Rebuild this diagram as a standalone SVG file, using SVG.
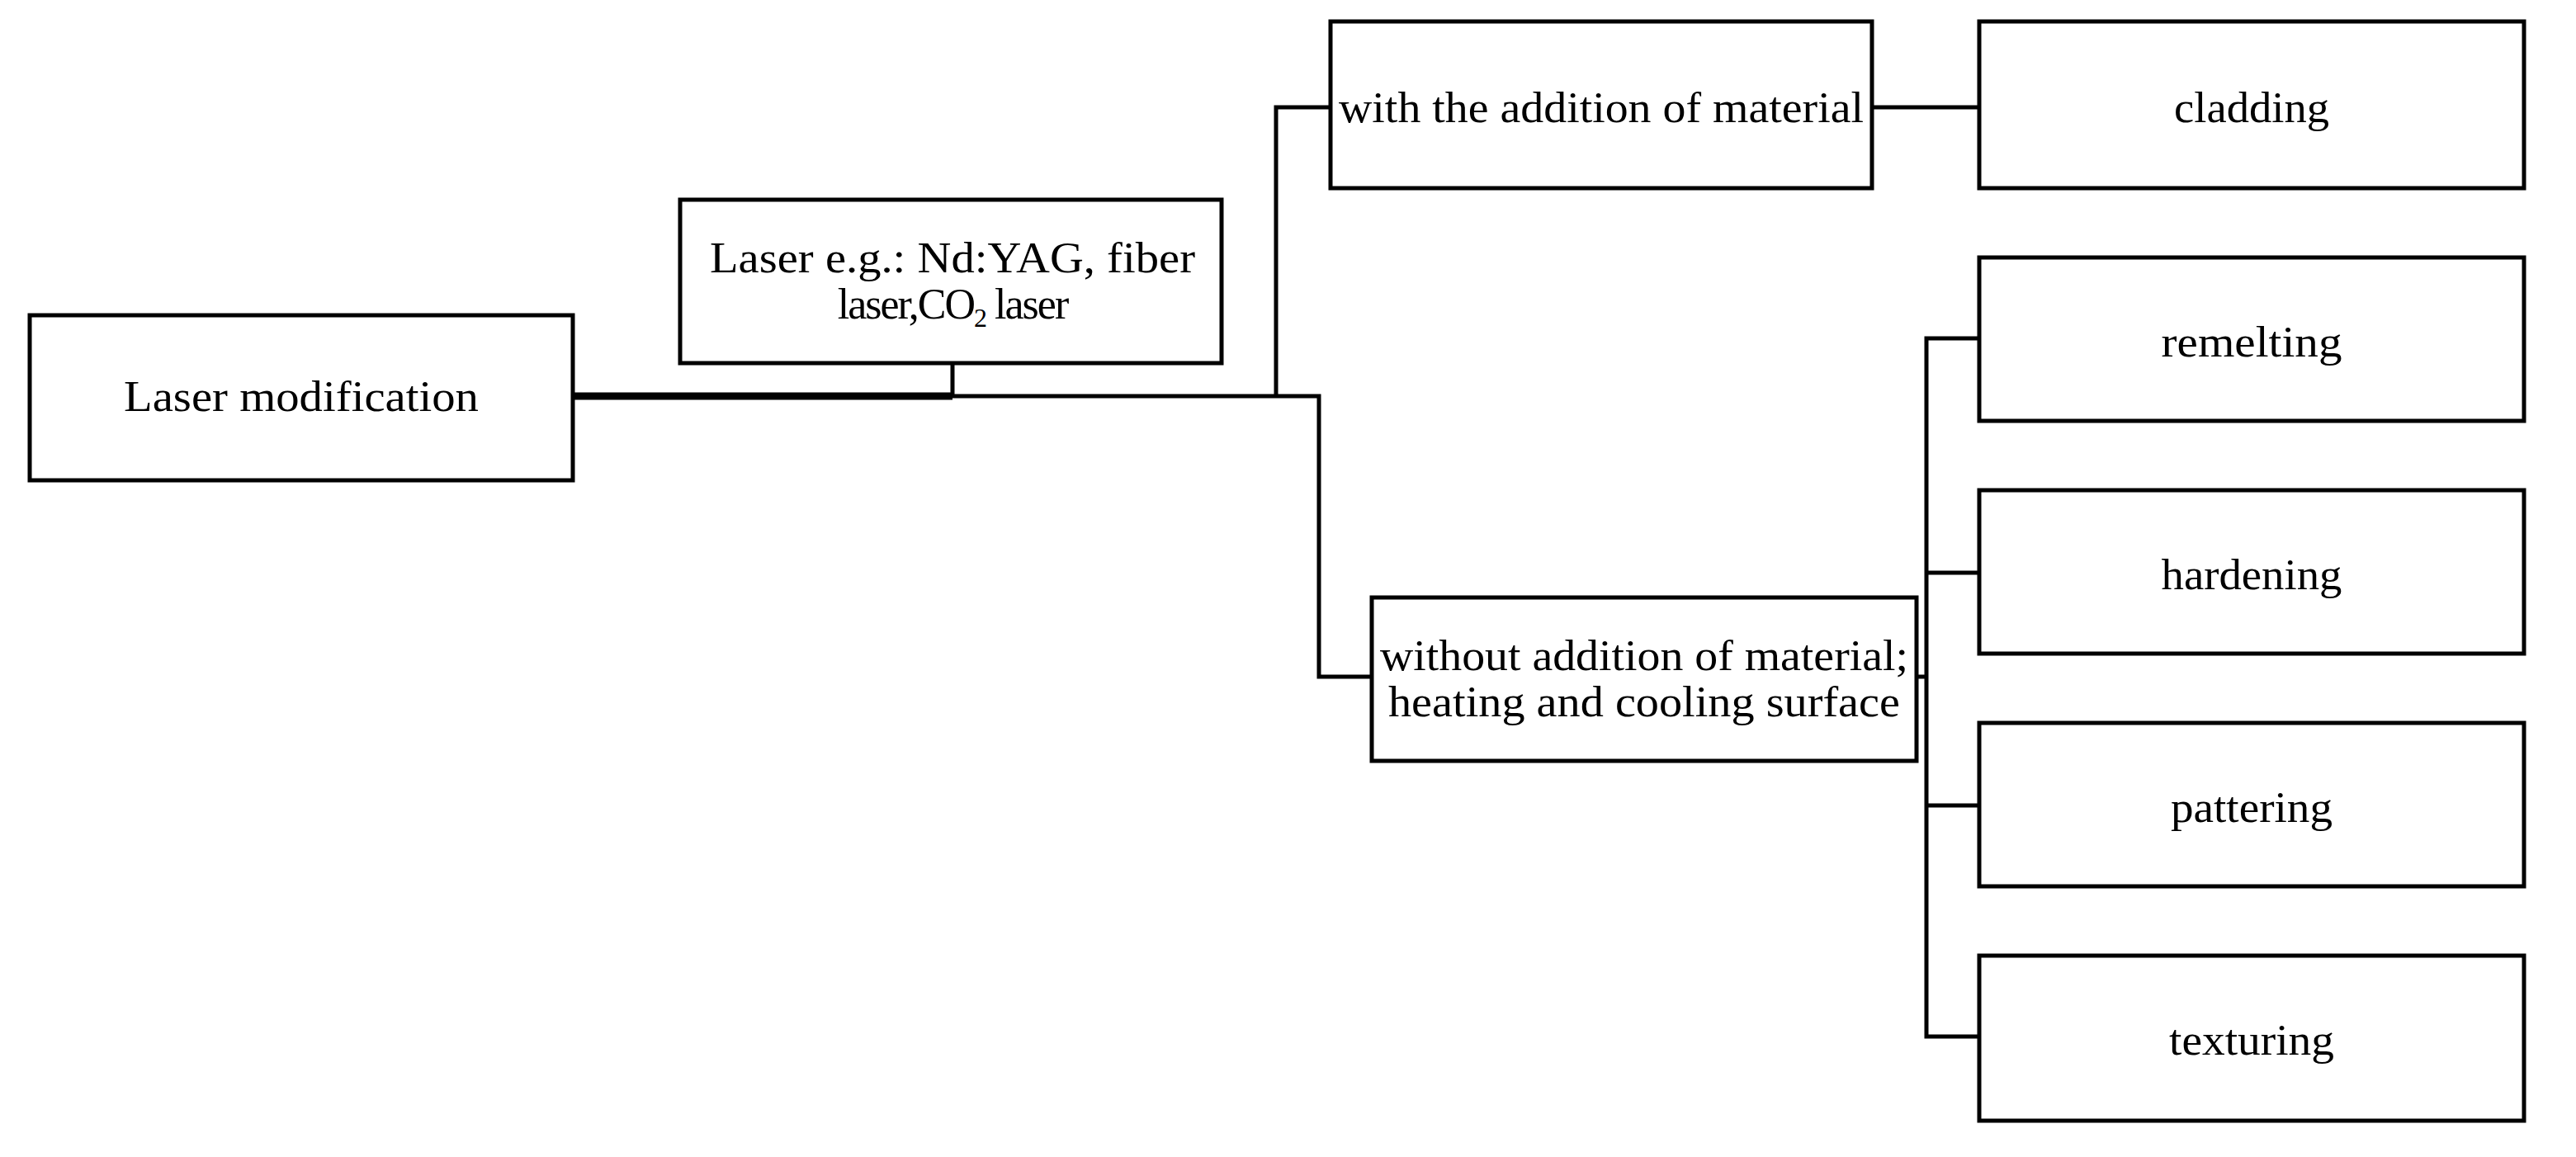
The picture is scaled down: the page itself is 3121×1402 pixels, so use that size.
<svg xmlns="http://www.w3.org/2000/svg" width="3121" height="1402" viewBox="0 0 3121 1402">
<style>
.b{fill:#fff;stroke:#000;stroke-width:5}
text{font-family:"Liberation Serif","Times New Roman",serif;font-size:52px;fill:#000;text-anchor:middle}
.c{fill:none;stroke:#000;stroke-width:5}
</style>
<rect width="3121" height="1402" fill="#fff"/>
<g id="connectors">
<path class="c" d="M694 480H1154" style="stroke-width:9"/>
<path class="c" d="M1154 440V480H1598V820H1662"/>
<path class="c" d="M1546 480V130H1612"/>
<path class="c" d="M2268 130H2398"/>
<path class="c" d="M2322 820H2334"/>
<path class="c" d="M2398 410H2334V1256H2398M2334 694H2398M2334 976H2398"/>
</g>
<g id="n1"><rect class="b" x="36" y="382" width="658" height="200"/><text x="365" y="498" textLength="430" lengthAdjust="spacingAndGlyphs">Laser modification</text></g>
<g id="n2"><rect class="b" x="824" y="242" width="656" height="198"/><text x="1154" y="330" textLength="588" lengthAdjust="spacingAndGlyphs">Laser e.g.: Nd:YAG,  fiber</text><text x="1154" y="386" font-size="46" letter-spacing="-2">laser,CO<tspan font-size="32" dy="10">2</tspan><tspan dy="-10"> laser</tspan></text></g>
<g id="n3"><rect class="b" x="1612" y="26" width="656" height="202"/><text x="1940" y="148" textLength="636" lengthAdjust="spacingAndGlyphs">with the addition of material</text></g>
<g id="n4"><rect class="b" x="1662" y="724" width="660" height="198"/><text x="1992" y="812" textLength="640" lengthAdjust="spacingAndGlyphs">without addition of material;</text><text x="1992" y="868" textLength="620" lengthAdjust="spacingAndGlyphs">heating and cooling surface</text></g>
<g id="n5"><rect class="b" x="2398" y="26" width="660" height="202"/><text x="2728" y="148" textLength="188" lengthAdjust="spacingAndGlyphs">cladding</text></g>
<g id="n6"><rect class="b" x="2398" y="312" width="660" height="198"/><text x="2728" y="432" textLength="219" lengthAdjust="spacingAndGlyphs">remelting</text></g>
<g id="n7"><rect class="b" x="2398" y="594" width="660" height="198"/><text x="2728" y="714" textLength="219" lengthAdjust="spacingAndGlyphs">hardening</text></g>
<g id="n8"><rect class="b" x="2398" y="876" width="660" height="198"/><text x="2728" y="996" textLength="196" lengthAdjust="spacingAndGlyphs">pattering</text></g>
<g id="n9"><rect class="b" x="2398" y="1158" width="660" height="200"/><text x="2728" y="1278" textLength="200" lengthAdjust="spacingAndGlyphs">texturing</text></g>
</svg>
